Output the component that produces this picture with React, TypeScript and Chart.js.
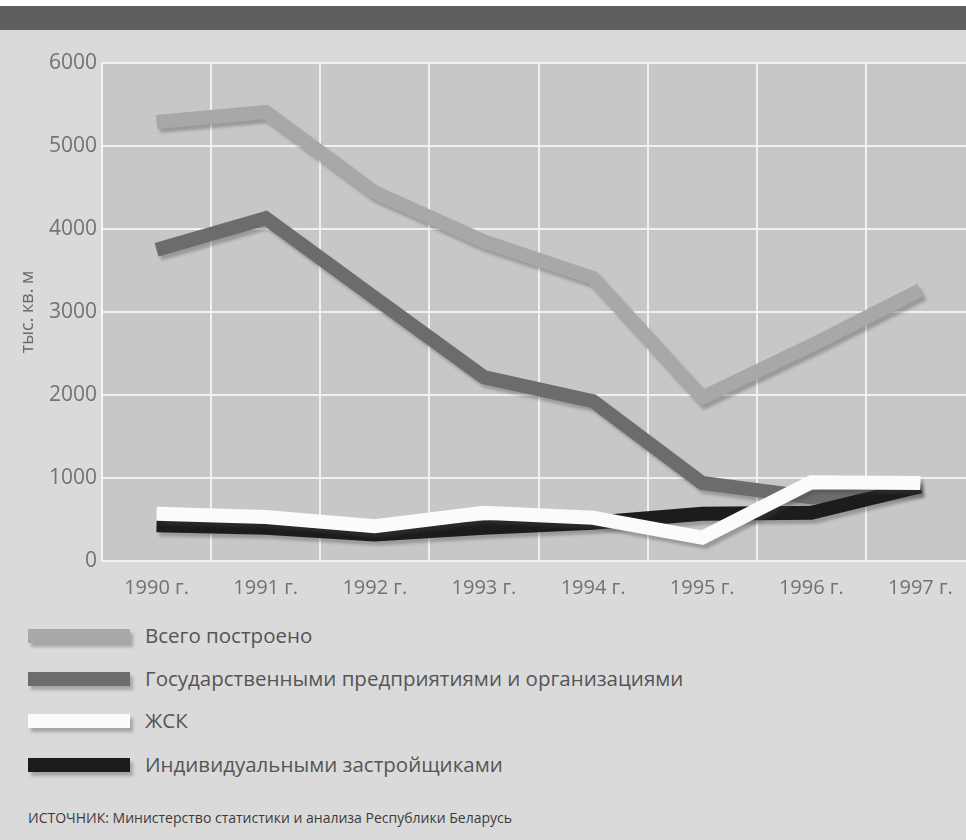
import React, { useEffect, useRef } from "react";
import { Chart, registerables } from "chart.js";

Chart.register(...registerables);

const categories = ["1990 г.", "1991 г.", "1992 г.", "1993 г.", "1994 г.", "1995 г.", "1996 г.", "1997 г."];
const totalBuilt = [5290, 5410, 4440, 3850, 3410, 1970, 2600, 3265];
const stateEnterprises = [3750, 4130, 3170, 2215, 1925, 940, 770, 890];
const housingCoops = [570, 530, 420, 580, 520, 280, 950, 940];
const individualBuilders = [430, 400, 320, 400, 460, 570, 580, 900];
const yMin = 0;
const yMax = 6000;
const yStep = 1000;

const seriesNames = [
  "Всего построено",
  "Государственными предприятиями и организациями",
  "ЖСК",
  "Индивидуальными застройщиками",
];
const seriesColors = ["#a8a8a8", "#6c6c6c", "#fbfbfb", "#1c1c1c"];
const yTitle = "тыс. кв. м";
const sourceText = "ИСТОЧНИК: Министерство статистики и анализа Республики Беларусь";

const FONT = "'Open Sans', 'Noto Sans', sans-serif";

const plotBg = {
  id: "plotBg",
  beforeDraw(chart: any) {
    const { ctx, chartArea } = chart;
    if (!chartArea) return;
    ctx.save();
    ctx.fillStyle = "#c7c7c7";
    ctx.fillRect(chartArea.left, chartArea.top, chartArea.right - chartArea.left, chartArea.bottom - chartArea.top);
    ctx.restore();
  },
};

const shadowPlugin = {
  id: "lineShadow",
  beforeDatasetDraw(chart: any) {
    const ctx = chart.ctx;
    ctx.save();
    ctx.shadowColor = "rgba(70,70,70,0.35)";
    ctx.shadowBlur = 3;
    ctx.shadowOffsetX = 3;
    ctx.shadowOffsetY = 4;
  },
  afterDatasetDraw(chart: any) {
    chart.ctx.restore();
  },
};

function ChartCanvas() {
  const ref = useRef<HTMLCanvasElement | null>(null);
  useEffect(() => {
    if (!ref.current) return;
    const seriesData = [totalBuilt, stateEnterprises, housingCoops, individualBuilders];
    const orders = [3, 2, 0, 1];
    const chart = new Chart(ref.current, {
      type: "line",
      data: {
        labels: categories,
        datasets: seriesData.map((d, i) => ({
          label: seriesNames[i],
          data: d,
          borderColor: seriesColors[i],
          backgroundColor: seriesColors[i],
          borderWidth: 14,
          pointRadius: 0,
          pointHoverRadius: 0,
          tension: 0,
          fill: false,
          borderJoinStyle: "miter" as const,
          borderCapStyle: "butt" as const,
          order: orders[i],
        })),
      },
      options: {
        animation: false,
        responsive: false,
        devicePixelRatio: 1,
        events: [],
        layout: { padding: { left: 17, top: 23, right: 5, bottom: 9 } },
        plugins: {
          legend: { display: false },
          tooltip: { enabled: false },
        },
        scales: {
          x: {
            offset: true,
            grid: { offset: true, color: "rgba(245,245,245,0.9)", lineWidth: 2, drawTicks: false },
            border: { display: false },
            ticks: { color: "#727272", font: { family: FONT, size: 20 }, padding: 15, maxRotation: 0 },
            afterFit: (s: any) => {
              s.height = 40;
            },
          },
          y: {
            min: yMin,
            max: yMax,
            grid: { color: "rgba(245,245,245,0.9)", lineWidth: 2, drawTicks: false },
            border: { display: true, color: "rgba(245,245,245,0.9)", width: 2 },
            ticks: {
              stepSize: yStep,
              color: "#727272",
              font: { family: FONT, size: 21 },
              padding: 5,
              callback: (v: any) => String(v),
            },
            title: { display: true, text: yTitle, color: "#6a6a6a", font: { family: FONT, size: 18 }, padding: 0 },
            afterFit: (s: any) => {
              s.width = 85;
            },
          },
        },
      },
      plugins: [plotBg, shadowPlugin],
    });
    return () => chart.destroy();
  }, []);
  return <canvas ref={ref} width={980} height={570} style={{ position: "absolute", left: 0, top: 40 }} />;
}

export default function App() {
  const rowTops = [636, 679, 721, 765];
  return (
    <div
      style={{
        position: "fixed",
        left: 0,
        top: 0,
        width: 966,
        height: 840,
        overflow: "hidden",
        background: "#dadada",
        fontFamily: FONT,
      }}
    >
      <div style={{ position: "absolute", left: 0, top: 0, width: 966, height: 6, background: "#ffffff" }} />
      <div style={{ position: "absolute", left: 0, top: 6, width: 966, height: 24, background: "#5f5f5f" }} />
      <ChartCanvas />
      {seriesNames.map((name, i) => (
        <div key={name}>
          <div
            style={{
              position: "absolute",
              left: 28,
              top: rowTops[i] - 7,
              width: 102,
              height: 14,
              background: seriesColors[i],
              boxShadow: "3px 4px 3px rgba(70,70,70,0.35)",
            }}
          />
          <div
            style={{
              position: "absolute",
              left: 145,
              top: rowTops[i] - 15,
              height: 28,
              lineHeight: "28px",
              fontSize: 20.5,
              color: "#555555",
              whiteSpace: "nowrap",
            }}
          >
            {name}
          </div>
        </div>
      ))}
      <div
        style={{
          position: "absolute",
          left: 28,
          top: 809,
          height: 18,
          lineHeight: "18px",
          fontSize: 14,
          color: "#3a3a3a",
          whiteSpace: "nowrap",
        }}
      >
        {sourceText}
      </div>
    </div>
  );
}
